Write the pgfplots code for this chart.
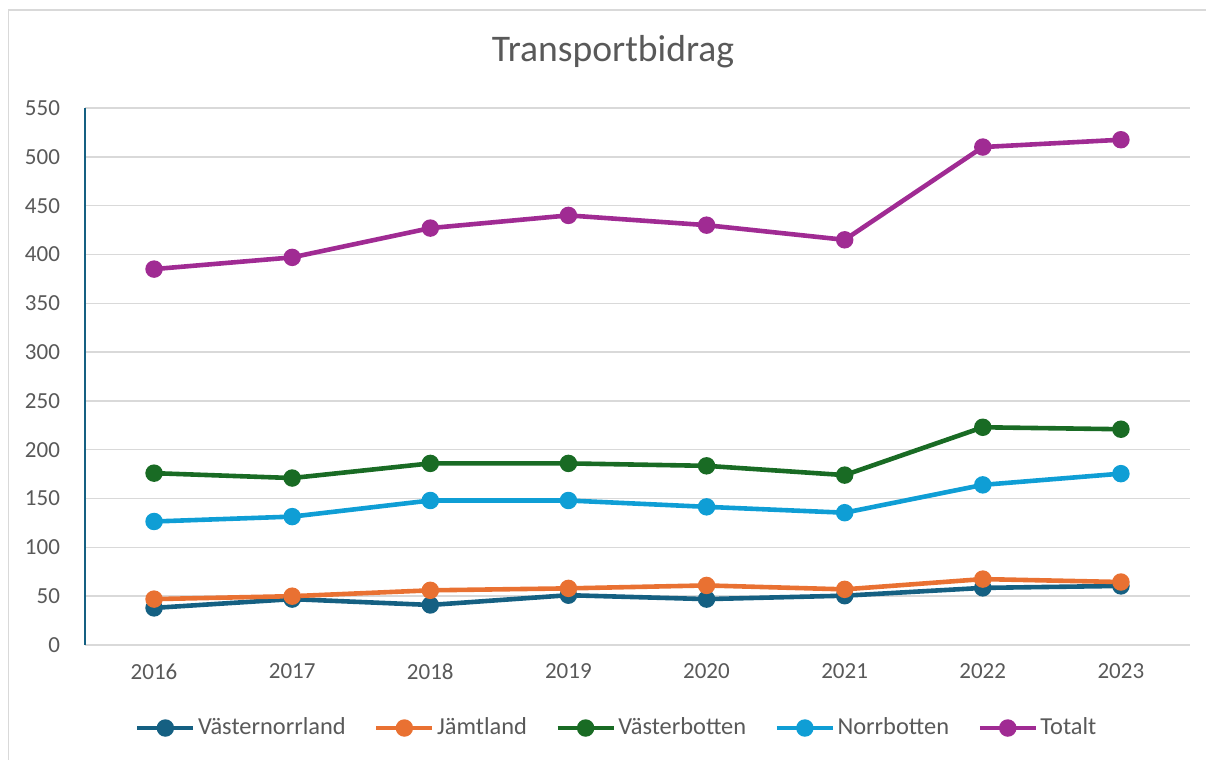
\documentclass[border=0pt]{standalone}
\usepackage{fontspec}
\setmainfont{Carlito}
\usepackage{pgfplots}
\pgfplotsset{compat=1.18}

\definecolor{txt}{HTML}{595959}
\definecolor{gridc}{HTML}{D9D9D9}
\definecolor{cVn}{HTML}{156082}
\definecolor{cJl}{HTML}{E97132}
\definecolor{cVb}{HTML}{196B24}
\definecolor{cNb}{HTML}{0F9ED5}
\definecolor{cTo}{HTML}{A02B93}

\begin{document}
\begin{tikzpicture}
% page is 603bp x 380bp, i.e. 1 reference pixel = 0.5bp
\useasboundingbox (0,0) rectangle (603bp,380bp);
\draw[gridc, line width=0.75bp] (4.25bp,0) -- (4.25bp,375bp) -- (603bp,375bp);
\node[anchor=base, text=txt, font=\fontsize{18.8bp}{22bp}\selectfont] at (306.5bp,349bp) {Transportbidrag};

\begin{axis}[
  at={(42.5bp,57.5bp)}, anchor=south west,
  scale only axis, width=552.5bp, height=268.5bp,
  xmin=2015.5, xmax=2023.5, ymin=0, ymax=550,
  xtick={2016,...,2023}, ytick={0,50,...,550},
  x tick label style={/pgf/number format/1000 sep={}},
  /pgf/number format/assume math mode=true,
  tick label style={text=txt, font=\fontsize{11.5bp}{13bp}\selectfont},
  major tick length=0pt,
  yticklabel style={xshift=-9bp},
  xticklabel style={yshift=-6bp},
  ymajorgrids, grid style={gridc, line width=0.75bp},
  axis x line*=bottom, axis y line*=left,
  x axis line style={gridc, line width=0.75bp, -},
  y axis line style={cVn, line width=0.75bp, -},
  every axis plot/.append style={line width=2.3bp, mark=*, mark size=3.2bp, mark options={solid}},
  legend columns=5,
  legend style={at={(0.4814,-0.1546)}, anchor=center, draw=none, fill=none,
    font=\fontsize{12.2bp}{14bp}\selectfont, text=txt,
    /tikz/every even column/.append style={column sep=13bp},
    nodes={inner sep=1.2bp}},
  legend image code/.code={\draw[mark repeat=2, mark phase=2] plot coordinates {(0bp,0bp) (14bp,0bp) (28bp,0bp)};},
]
\addplot[cVn] coordinates {(2016,38) (2017,47) (2018,41) (2019,51) (2020,47) (2021,50.5) (2022,58.5) (2023,60.5)};
\addplot[cJl] coordinates {(2016,47) (2017,50) (2018,56) (2019,58) (2020,61) (2021,57) (2022,67.5) (2023,64.5)};
\addplot[cVb] coordinates {(2016,176) (2017,171) (2018,186) (2019,186) (2020,183.5) (2021,174) (2022,223) (2023,221)};
\addplot[cNb] coordinates {(2016,126.5) (2017,131.5) (2018,148) (2019,148) (2020,141.5) (2021,135.5) (2022,164) (2023,175.5)};
\addplot[cTo] coordinates {(2016,385) (2017,397) (2018,427) (2019,440) (2020,430) (2021,415) (2022,510) (2023,517.5)};
\legend{Västernorrland, Jämtland, Västerbotten, Norrbotten, Totalt}
\end{axis}
\end{tikzpicture}
\end{document}
